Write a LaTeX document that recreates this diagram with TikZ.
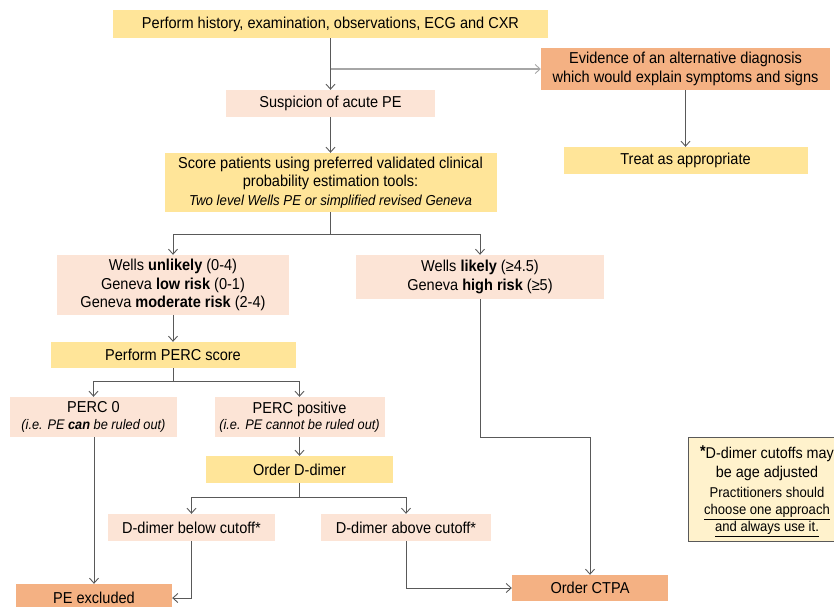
\documentclass[tikz,border=0pt]{standalone}
\usepackage{fontspec}
\setmainfont{Liberation Sans}[FakeStretch=0.92]
\usetikzlibrary{arrows.meta}
\definecolor{yel}{HTML}{FFE599}
\definecolor{pch}{HTML}{FCE4D6}
\definecolor{org}{HTML}{F4B183}
\definecolor{notefill}{HTML}{FFF2CC}
\definecolor{ln}{HTML}{595959}
\definecolor{lnl}{HTML}{A6A6A6}
\begin{document}
\begin{tikzpicture}[x=1pt,y=-1pt,
  box/.style={rectangle,inner sep=0pt,align=center,font=\fontsize{15.8}{18.5}\selectfont,text=black},
  ybox/.style={box,fill=yel},
  pbox/.style={box,fill=pch},
  obox/.style={box,fill=org},
  ln/.style={draw=ln,line width=0.9pt},
  arr/.style={ln,-{Straight Barb[length=5pt,width=9pt,line width=0.9pt]}}]
\useasboundingbox (0,0) rectangle (834,606);
\clip (0,0) rectangle (834,606);

\node[ybox,minimum width=435pt,minimum height=28pt] (top) at (330.5,24) {Perform history, examination, observations, ECG and CXR};
\node[obox,minimum width=289pt,minimum height=42pt] (evid) at (685.5,69) {Evidence of an alternative diagnosis\\which would explain symptoms and signs};
\node[pbox,minimum width=209pt,minimum height=27pt] (susp) at (330.5,103.5) {Suspicion of acute PE};
\node[ybox,minimum width=244pt,minimum height=27pt] (treat) at (685.5,160.5) {Treat as appropriate};
\node[ybox,minimum width=332pt,minimum height=59pt] (score) at (330.5,182.5) {Score patients using preferred validated clinical\\probability estimation tools:\\{\itshape\fontsize{14.4}{18.5}\selectfont Two level Wells PE or simplified revised Geneva}};
\node[pbox,minimum width=232pt,minimum height=60pt] (wu) at (173,285) {Wells \textbf{unlikely} (0-4)\\Geneva \textbf{low risk} (0-1)\\Geneva \textbf{moderate risk} (2-4)};
\node[pbox,minimum width=248pt,minimum height=44pt] (wl) at (480,277) {Wells \textbf{likely} (≥4.5)\\Geneva \textbf{high risk} (≥5)};
\node[ybox,minimum width=245pt,minimum height=26pt] (perc) at (173,355) {Perform PERC score};
\node[pbox,minimum width=167pt,minimum height=40pt] (perc0) at (93.5,417) {PERC 0\\[-2pt]{\fontsize{13.9}{15}\selectfont\itshape (i.e. PE \textbf{can} be ruled out)}};
\node[pbox,minimum width=170pt,minimum height=40pt] (percp) at (299.5,417) {PERC positive\\[-2pt]{\fontsize{13.9}{15}\selectfont\itshape (i.e. PE cannot be ruled out)}};
\node[ybox,minimum width=187pt,minimum height=27pt] (dd) at (299.5,469.5) {Order D-dimer};
\node[pbox,minimum width=167pt,minimum height=27pt] (ddb) at (191.5,527.5) {D-dimer below cutoff*};
\node[pbox,minimum width=170pt,minimum height=27pt] (dda) at (406,527.5) {D-dimer above cutoff*};
\node[obox,minimum width=156pt,minimum height=27pt] (pe) at (94,597.5) {PE excluded};
\node[obox,minimum width=156pt,minimum height=26pt] (ctpa) at (590,588) {Order CTPA};
\node[box,fill=notefill,draw=ln,line width=0.8pt,minimum width=158pt,minimum height=104pt,anchor=north west] (note) at (687.5,437) {};
\node[box,anchor=north,font=\fontsize{15.6}{19}\selectfont] (notet) at (767,446) {\raisebox{2pt}{\textbf{*}}D-dimer cutoffs may\\be age adjusted};
\node[box,anchor=north,font=\fontsize{14.2}{17}\selectfont] (notes) at (767,487) {Practitioners should\\\underline{choose one approach}\\\underline{and always use it.}};

% connectors
\coordinate (b1) at (330.5,69);
\draw[ln] (top.south) -- (b1);
\draw[arr] (b1) -- (susp.north);
\draw[lnl,line width=1.3pt,-{Straight Barb[length=5pt,width=9pt,line width=0.9pt]}] (b1) -- (b1 -| evid.west);
\draw[arr] (evid.south) -- (treat.north);
\draw[arr] (susp.south) -- (score.north);
\coordinate (s1) at (330.5,234);
\draw[ln] (score.south) -- (s1);
\draw[arr] (s1) -| (wu.north);
\draw[arr] (s1) -| (wl.north);
\draw[arr] (wu.south) -- (perc.north);
\coordinate (p1) at (173,381);
\draw[ln] (perc.south) -- (p1);
\draw[arr] (p1) -| (perc0.north);
\draw[arr] (p1) -| (percp.north);
\draw[arr] (percp.south) -- (dd.north);
\coordinate (d1) at (299.5,497);
\draw[ln] (dd.south) -- (d1);
\draw[arr] (d1) -| (ddb.north);
\draw[arr] (d1) -| (dda.north);
\draw[arr] (perc0.south -| pe.north) -- (pe.north);
\draw[arr] (ddb.south) |- (pe.east |- 0,598);
\draw[arr] (dda.south) |- (ctpa.west);
\draw[arr] (wl.south) |- (590,437) -- (ctpa.north);
\end{tikzpicture}
\end{document}
